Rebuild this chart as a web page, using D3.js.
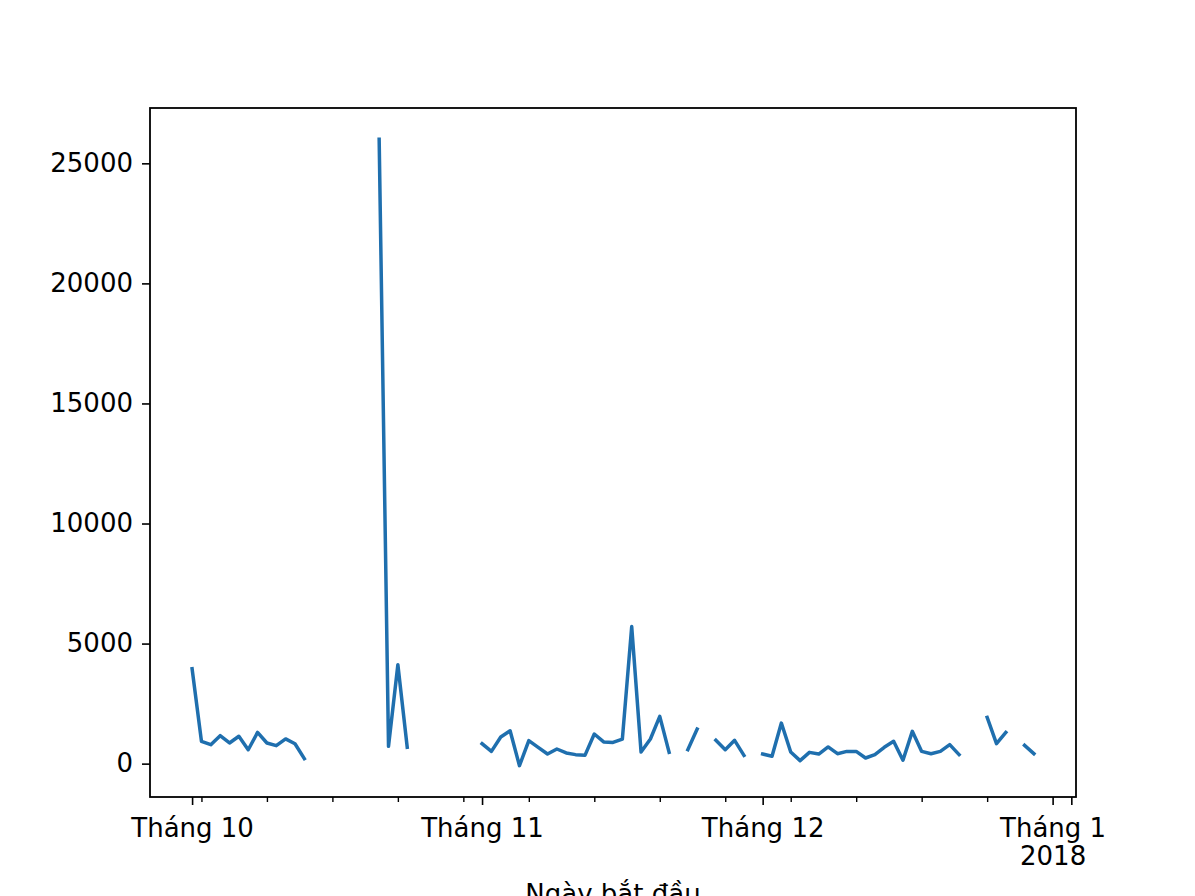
<!DOCTYPE html>
<html>
<head>
<meta charset="utf-8">
<script src="https://cdn.jsdelivr.net/npm/d3@7"></script>
<style>
  html, body { margin: 0; padding: 0; background: #fff; }
  svg { display: block; }
  text { font-family: "DejaVu Sans", sans-serif; fill: #000; }
</style>
</head>
<body>
<svg id="chart" width="1195" height="896"></svg>
<script>
// ---- Data ----
const startDate = "2017-10-01"; // first day of daily series
const values = [
  3950, 930, 790, 1165, 860, 1140, 580, 1300, 860, 750, 1030, 830, 210,
  null, null, null, null, null, null, null,
  26000, 720, 4120, 680,
  null, null, null, null, null, null, null,
  830, 510, 1110, 1370, -85, 960, 680, 400, 610, 445, 375, 345, 1235, 905, 885, 1025, 5710, 485, 1025, 1970, 470,
  null,
  580, 1440,
  null,
  970, 580, 970, 345,
  null,
  400, 310, 1690, 485, 125, 470, 400, 695, 415, 510, 510, 235, 375, 680, 930, 140, 1345, 510, 415, 510, 790, 375,
  null, null,
  1925, 830, 1300,
  null,
  765, 415
];
const majorTickDates = ["2017-10-01", "2017-11-01", "2017-12-01", "2018-01-01", "2018-01-03"];
const majorTickLabels = ["Tháng 10", "Tháng 11", "Tháng 12", "Tháng 1\n2018", ""];
const minorTickDates = ["2017-10-02", "2017-10-09", "2017-10-16", "2017-10-23", "2017-10-30",
  "2017-11-06", "2017-11-13", "2017-11-20", "2017-11-27",
  "2017-12-04", "2017-12-11", "2017-12-18", "2017-12-25"];
const yTicks = [0, 5000, 10000, 15000, 20000, 25000];
const xLabel = "Ngày bắt đầu";

// ---- Layout ----
const W = 1195, H = 896;
const m = { left: 150, right: 1076, top: 108, bottom: 797 };
const FS = 26;

const parse = d3.utcParse("%Y-%m-%d");
const t0 = parse(startDate);
const data = values.map((v, i) => ({ date: d3.utcDay.offset(t0, i), v }));

// x domain with 5% margins (matplotlib style)
const first = data[0].date, last = data[data.length - 1].date;
const spanMs = last - first;
const xScale = d3.scaleUtc()
  .domain([new Date(+first - 0.05 * spanMs), new Date(+last + 0.05 * spanMs)])
  .range([m.left, m.right]);

const defined = values.filter(v => v != null);
const ymin = d3.min(defined), ymax = d3.max(defined);
const yR = ymax - ymin;
const yScale = d3.scaleLinear()
  .domain([ymin - 0.05 * yR, ymax + 0.05 * yR])
  .range([m.bottom, m.top]);

const svg = d3.select("#chart");

// line
const line = d3.line()
  .defined(d => d.v != null)
  .x(d => xScale(d.date))
  .y(d => yScale(d.v));

svg.append("path")
  .datum(data)
  .attr("d", line)
  .attr("fill", "none")
  .attr("stroke", "#1f6fae")
  .attr("stroke-width", 3.5)
  .attr("stroke-linejoin", "round")
  .attr("stroke-linecap", "square");

// y axis
const yAxis = d3.axisLeft(yScale).tickValues(yTicks).tickSize(8).tickPadding(9).tickFormat(d3.format("d"));
const gy = svg.append("g").attr("transform", `translate(${m.left},0)`).call(yAxis);
gy.select(".domain").remove();
gy.selectAll(".tick line").attr("stroke", "#000").attr("stroke-width", 1.6);
gy.selectAll(".tick text").attr("font-size", FS).attr("font-family", "DejaVu Sans").attr("fill", "#000");

// x axis minor ticks
const gxMinor = svg.append("g").attr("transform", `translate(0,${m.bottom})`)
  .call(d3.axisBottom(xScale).tickValues(minorTickDates.map(parse)).tickSize(5).tickFormat(""));
gxMinor.select(".domain").remove();
gxMinor.selectAll(".tick line").attr("stroke", "#000").attr("stroke-width", 1.4);

// x axis major ticks
const labelMap = new Map(majorTickDates.map((d, i) => [+parse(d), majorTickLabels[i]]));
const gx = svg.append("g").attr("transform", `translate(0,${m.bottom})`)
  .call(d3.axisBottom(xScale).tickValues(majorTickDates.map(parse)).tickSize(8).tickFormat(""));
gx.select(".domain").remove();
gx.selectAll(".tick line").attr("stroke", "#000").attr("stroke-width", 1.6);
gx.selectAll(".tick").each(function(d) {
  const lab = labelMap.get(+d) || "";
  const lines = lab.split("\n");
  const t = d3.select(this).append("text")
    .attr("text-anchor", "middle")
    .attr("font-size", FS)
    .attr("y", 40);
  lines.forEach((s, i) => {
    t.append("tspan").attr("x", 0).attr("y", 40 + i * 28).text(s);
  });
});

// frame
svg.append("rect")
  .attr("x", m.left).attr("y", m.top)
  .attr("width", m.right - m.left).attr("height", m.bottom - m.top)
  .attr("fill", "none").attr("stroke", "#000").attr("stroke-width", 1.8);

// x label
svg.append("text")
  .attr("x", (m.left + m.right) / 2)
  .attr("y", 903)
  .attr("text-anchor", "middle")
  .attr("font-size", FS)
  .text(xLabel);
</script>
</body>
</html>
